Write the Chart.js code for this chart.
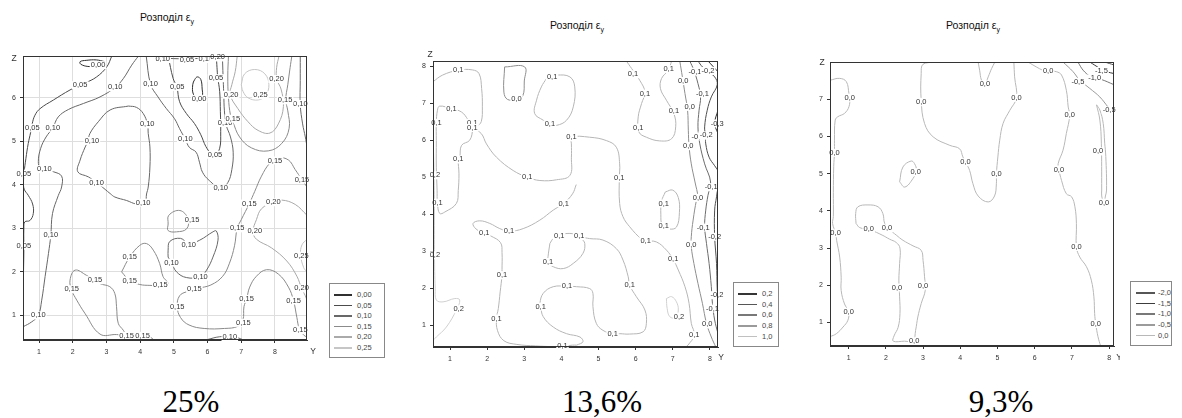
<!DOCTYPE html>
<html>
<head>
<meta charset="utf-8">
<script src="https://cdn.jsdelivr.net/npm/chart.js@4.4.1/dist/chart.umd.min.js"></script>
<style>
  body { margin: 0; background: #fff; width: 1182px; height: 418px; overflow: hidden; position: relative;
         font-family: "Liberation Sans", Arial, sans-serif; }
  canvas { position: absolute; }
  .title { position: absolute; font-size: 10.5px; line-height: 12px; color: #111; transform: translateX(-50%); white-space: nowrap; }
  .title sub { font-size: 7px; }
  .pct { position: absolute; font-family: "Liberation Serif", "Times New Roman", serif; font-size: 31px; line-height: 31px;
         color: #000; transform: translateX(-50%); white-space: nowrap; }
  .legend { position: absolute; border: 1.5px solid #888; background: #fff; }
  .legend .row { position: absolute; height: 8px; font-size: 7.5px; line-height: 8px; color: #444; opacity: 0.99; }
  .legend .sw { position: absolute; top: 3px; height: 1.5px; }
  .legend .tx { position: absolute; top: 0; }
</style>
</head>
<body>
<div class="title" style="left:167px;top:11px">Розподіл ε<sub>y</sub></div>
<div class="title" style="left:577px;top:19px">Розподіл ε<sub>y</sub></div>
<div class="title" style="left:973px;top:19px">Розподіл ε<sub>y</sub></div>

<canvas id="c1" width="320" height="310" style="left:0px;top:46px"></canvas>
<canvas id="c2" width="314" height="315" style="left:410px;top:48px"></canvas>
<canvas id="c3" width="313" height="314" style="left:807px;top:48px"></canvas>

<div class="legend" id="lg1" style="left:329px;top:283px;width:54px;height:73px"></div>
<div class="legend" id="lg2" style="left:733px;top:282px;width:44px;height:63px"></div>
<div class="legend" id="lg3" style="left:1130px;top:281px;width:40px;height:63px"></div>

<div class="pct" style="left:191px;top:386px">25%</div>
<div class="pct" style="left:602px;top:386px">13,6%</div>
<div class="pct" style="left:1001px;top:386px">9,3%</div>

<script>
// ---------- shared ticks ----------
const xTicks = [1, 2, 3, 4, 5, 6, 7, 8];
const p1YTicks = [1, 2, 3, 4, 5, 6];
const p2YTicks = [1, 2, 3, 4, 5, 6, 7, 8];
const p3YTicks = [1, 2, 3, 4, 5, 6, 7];

// ---------- panel 1 (25%) ----------
const p1Levels = ['0,00', '0,05', '0,10', '0,15', '0,20', '0,25'];
const p1Colors = ['#2e2e2e', '#4a4a4a', '#676767', '#8a8a8a', '#a9a9a9', '#c6c6c6'];

const p1L000a = [[2.95,6.83],[2.7,6.87],[2.4,6.86],[2.22,6.83],[2.24,6.77],[2.45,6.72],[2.7,6.73],[2.95,6.8],[2.95,6.83]];
const p1L000b = [[5.72,5.98],[5.58,6.08],[5.56,6.3],[5.62,6.42],[5.7,6.48],[5.8,6.42],[5.84,6.2],[5.84,6.04],[5.72,5.98]];
const p1L005a = [[3.16,6.96],[3.01,6.71],[2.71,6.48],[2.37,6.34],[2.22,6.29],[1.92,6.18],[1.43,5.95],[1.03,5.75],[0.88,5.6],[0.8,5.41],[0.75,5.2],[0.68,4.95],[0.61,4.6],[0.56,4.3],[0.54,4.07],[0.56,3.9],[0.68,3.76],[0.81,3.56],[0.83,3.34],[0.73,3.18],[0.58,3.15],[0.55,3.0],[0.55,2.5],[0.54,2.0]];
const p1L005b = [[4.83,6.96],[4.98,6.44],[5.09,6.25],[5.17,5.91],[5.37,5.64],[5.61,5.41],[5.8,5.15],[5.95,4.88],[6.1,4.73],[6.22,4.69],[6.36,4.84],[6.39,5.22],[6.38,5.68],[6.36,6.14],[6.3,6.48],[6.28,6.7],[6.26,6.96]];
const p1L010a = [[3.95,6.96],[3.75,6.75],[3.5,6.44],[3.26,6.24],[2.81,6.02],[2.32,5.87],[1.87,5.73],[1.57,5.56],[1.41,5.31],[1.21,5.1],[1.05,4.84],[0.98,4.53],[1.05,4.38],[1.43,4.3],[1.67,4.2],[1.67,3.95],[1.57,3.75],[1.4,3.34],[1.35,2.84],[1.28,2.42],[1.18,1.89],[1.08,1.35],[0.98,1.0],[0.78,0.85],[0.53,0.74]];
const p1L010b = [[3.65,5.81],[3.11,5.72],[2.76,5.45],[2.51,5.18],[2.45,5.0],[2.37,4.87],[2.22,4.57],[2.15,4.3],[2.47,4.18],[2.81,3.99],[3.11,3.8],[3.25,3.72],[3.6,3.64],[3.89,3.56],[4.14,3.59],[4.19,3.79],[4.24,3.95],[4.29,4.41],[4.29,4.87],[4.24,5.18],[4.22,5.39],[4.09,5.64],[3.89,5.78],[3.65,5.81]];
const p1L010c = [[4.18,6.96],[4.31,6.31],[4.53,6.02],[4.78,5.75],[5.02,5.52],[5.17,5.29],[5.34,5.05],[5.46,4.86],[5.66,4.75],[5.76,4.52],[5.85,4.29],[6.05,4.1],[6.39,3.92],[6.6,4.05],[6.72,4.35],[6.76,4.75],[6.68,5.1],[6.55,5.38],[6.5,5.7],[6.48,6.1],[6.46,6.5],[6.44,6.96]];
const p1L010d = [[4.45,6.93],[5.0,6.9],[5.6,6.9],[6.1,6.92]];
const p1L010e = [[8.75,6.96],[8.75,6.4],[8.75,5.84],[8.82,5.4],[8.9,5.1],[8.95,4.88]];
const p1L010f = [[5.97,0.44],[6.36,0.51],[6.66,0.5],[6.92,0.48],[7.05,0.44]];
const p1L010g = [[4.83,2.34],[4.83,2.5],[4.88,2.7],[5.2,2.77],[5.44,2.65],[5.77,2.73],[6.16,2.92],[6.26,2.94],[6.31,2.73],[6.16,2.34],[5.97,2.04],[5.79,1.89],[5.37,1.87],[5.08,2.0],[4.93,2.21],[4.83,2.34]];
const p1L015a = [[6.62,6.96],[6.6,6.5],[6.62,6.0],[6.68,5.6],[6.75,5.45],[6.95,5.1],[7.3,4.85],[7.8,4.78],[8.2,4.95],[8.42,5.3],[8.38,5.7],[8.32,5.95],[8.38,6.3],[8.45,6.7],[8.5,6.96]];
const p1L015b = [[8.95,3.95],[8.8,4.12],[8.6,4.35],[8.4,4.57],[8.1,4.62],[7.85,4.5],[7.6,4.2],[7.4,3.85],[7.24,3.57],[7.0,3.2],[6.88,3.0],[6.8,2.6],[6.65,2.2],[6.45,1.9],[6.1,1.7],[5.7,1.62],[5.4,1.55],[5.17,1.45],[5.1,1.2],[5.2,0.95],[5.45,0.78],[5.9,0.7],[6.5,0.7],[6.9,0.75],[7.05,0.9],[7.08,1.2],[7.16,1.38],[7.25,1.65],[7.45,1.9],[7.75,2.05],[8.1,1.95],[8.4,1.65],[8.55,1.34],[8.65,0.95],[8.72,0.7],[8.85,0.55],[8.95,0.5]];
const p1L015c = [[4.83,3.1],[4.85,3.3],[5.18,3.41],[5.42,3.22],[5.38,2.99],[5.08,2.92],[4.83,2.95],[4.83,3.1]];
const p1L015d = [[3.45,2.0],[3.69,2.34],[3.99,2.61],[4.19,2.65],[4.39,2.5],[4.58,2.19],[4.68,1.89],[4.83,1.73],[4.6,1.69],[4.29,1.69],[3.99,1.71],[3.69,1.8],[3.45,2.0]];
const p1L015e = [[3.6,0.53],[3.3,0.56],[2.81,0.57],[2.36,1.05],[2.12,1.35],[1.97,1.58],[1.92,1.81],[2.07,2.04],[2.41,1.92],[2.81,1.73],[3.1,1.66],[3.25,1.5],[3.3,1.2],[3.35,0.82],[3.5,0.66],[3.6,0.53]];
const p1L015f = [[3.8,0.52],[4.07,0.52],[4.3,0.5],[4.4,0.44]];
const p1L020a = [[6.88,6.96],[6.82,6.6],[6.72,6.3],[6.67,6.07],[6.9,5.75],[7.2,5.45],[7.5,5.25],[7.85,5.19],[8.1,5.4],[8.25,5.8],[8.18,6.2],[8.05,6.43],[8.05,6.7],[8.12,6.96]];
const p1L020b = [[8.95,3.3],[8.6,3.55],[8.2,3.65],[7.95,3.6],[7.6,3.45],[7.45,3.2],[7.35,2.93],[7.45,2.75],[7.9,2.55],[8.35,2.25],[8.65,1.9],[8.79,1.62],[8.9,1.45],[8.95,1.35]];
const p1L025a = [[7.0,6.3],[7.1,6.55],[7.4,6.65],[7.7,6.55],[7.82,6.3],[7.72,6.05],[7.5,5.95],[7.2,6.0],[7.05,6.15],[7.0,6.3]];
const p1L025b = [[8.95,2.75],[8.8,2.62],[8.76,2.4],[8.85,2.1],[8.95,2.0]];

const p1Lines = [
  [p1L000a, 0], [p1L000b, 0], [p1L005a, 1], [p1L005b, 1],
  [p1L010a, 2], [p1L010b, 2], [p1L010c, 2], [p1L010d, 2], [p1L010e, 2], [p1L010f, 2], [p1L010g, 2],
  [p1L015a, 3], [p1L015b, 3], [p1L015c, 3], [p1L015d, 3], [p1L015e, 3], [p1L015f, 3],
  [p1L020a, 4], [p1L020b, 4], [p1L025a, 5], [p1L025b, 5]
];
const p1Labels = [
  [2.75,6.75,'0,00'], [5.75,5.97,'0,00'],
  [2.22,6.29,'0,05'], [0.8,5.31,'0,05'], [0.55,4.26,'0,05'], [0.55,2.6,'0,05'], [5.1,6.25,'0,05'], [6.22,4.69,'0,05'], [6.25,6.45,'0,05'], [5.39,6.87,'0,05'],
  [3.26,6.24,'0,10'], [1.41,5.31,'0,10'], [1.16,4.36,'0,10'], [1.35,2.84,'0,10'], [0.98,1.0,'0,10'], [2.57,5.01,'0,10'], [2.71,4.05,'0,10'],
  [4.21,5.39,'0,10'], [4.09,3.59,'0,10'], [4.31,6.31,'0,10'], [5.34,5.05,'0,10'], [6.39,3.92,'0,10'], [6.52,5.42,'0,10'], [8.75,5.86,'0,10'],
  [6.66,0.5,'0,10'], [5.44,2.62,'0,10'], [5.79,1.89,'0,10'], [4.93,2.21,'0,10'], [4.67,6.89,'0,10'], [5.95,6.89,'0,10'],
  [6.75,5.52,'0,15'], [8.3,5.94,'0,15'], [8.8,4.12,'0,15'], [8.0,4.56,'0,15'], [7.24,3.57,'0,15'], [6.88,3.0,'0,15'], [5.61,1.61,'0,15'],
  [5.1,1.2,'0,15'], [7.06,0.83,'0,15'], [7.16,1.38,'0,15'], [8.55,1.34,'0,15'], [8.75,0.66,'0,15'], [5.54,3.2,'0,15'], [3.69,2.34,'0,15'],
  [3.69,1.8,'0,15'], [4.6,1.69,'0,15'], [1.97,1.6,'0,15'], [2.66,1.81,'0,15'], [3.6,0.53,'0,15'], [4.07,0.53,'0,15'],
  [6.3,6.93,'0,20'], [6.7,6.07,'0,20'], [8.05,6.43,'0,20'], [7.95,3.6,'0,20'], [7.4,2.93,'0,20'], [8.79,1.62,'0,20'],
  [7.57,6.06,'0,25'], [8.78,2.37,'0,25']
];

// ---------- panel 2 (13,6%) ----------
const p2Values = ['-0,3', '-0,2', '-0,1', '0,0', '0,1', '0,2'];
const p2Colors = ['#2e2e2e', '#4e4e4e', '#6c6c6c', '#8e8e8e', '#b6b6b6', '#d0d0d0'];
const p2Legend = ['0,2', '0,4', '0,6', '0,8', '1,0'];
const p2LegendColors = ['#333333', '#555555', '#777777', '#999999', '#c0c0c0'];

const p2L01a = [[0.54,7.58],[0.8,7.76],[1.22,7.89],[1.6,7.9],[1.78,7.8],[1.85,7.4],[1.87,6.9],[1.84,6.5],[1.72,6.36]];
const p2L01b = [[1.62,6.31],[1.53,6.0],[1.31,5.86],[1.26,5.54],[1.22,5.48],[1.24,5.09],[1.22,4.64],[1.17,4.29],[0.86,4.06],[0.72,4.02],[0.66,4.31],[0.65,4.65],[0.63,5.27],[0.63,5.99],[0.63,6.47],[0.66,6.81],[0.72,6.92],[1.04,6.85],[1.31,6.76],[1.49,6.54],[1.62,6.31]];
const p2L01c = [[1.62,6.31],[1.84,6.18],[1.98,5.9],[2.25,5.54],[2.7,5.18],[3.08,5.0],[3.42,4.91],[3.87,4.93],[4.23,5.05],[4.27,5.54],[4.27,5.9],[4.27,6.08],[4.76,6.08],[5.21,5.99],[5.48,5.81],[5.57,5.36],[5.56,4.97],[5.57,4.29],[5.66,3.93],[5.84,3.66],[6.16,3.32],[6.27,3.28],[6.56,3.25],[6.83,3.03],[7.01,2.78],[7.15,2.49],[7.33,2.04],[7.44,1.59],[7.5,1.05],[7.58,0.73],[7.41,0.46],[7.35,0.41]];
const p2L01d = [[3.6,7.67],[3.75,7.71],[3.87,7.76],[4.23,7.71],[4.36,7.44],[4.32,6.9],[4.14,6.54],[3.87,6.4],[3.69,6.43],[3.51,6.54],[3.28,6.72],[3.33,7.08],[3.46,7.44],[3.6,7.67]];
const p2L01e = [[5.75,8.14],[5.89,7.94],[6.11,7.62],[6.25,7.3],[6.16,6.99],[6.07,6.63],[6.09,6.22],[6.29,6.08],[6.65,5.98],[6.97,6.04],[7.08,6.36],[7.03,6.72],[6.83,7.08],[6.67,7.39],[6.7,7.67],[6.88,7.89],[6.97,8.14]];
const p2L01f = [[6.8,4.6],[7.0,4.65],[7.15,4.45],[7.18,4.05],[7.1,3.65],[6.9,3.6],[6.72,3.7],[6.68,4.0],[6.7,4.35],[6.8,4.6]];
const p2L01g = [[4.4,4.8],[4.3,4.55],[4.06,4.29],[3.78,4.11],[3.42,3.84],[2.97,3.61],[2.59,3.54],[2.34,3.61],[2.07,3.75],[1.8,3.82],[1.62,3.75],[1.7,3.6],[1.92,3.48],[2.1,3.41],[2.36,3.23],[2.4,2.96],[2.4,2.5],[2.4,2.35],[2.35,1.9],[2.3,1.45],[2.25,1.18],[2.28,0.85],[2.45,0.58],[2.8,0.48],[3.3,0.44],[3.8,0.42],[4.03,0.43],[4.3,0.46],[4.41,0.46]];
const p2L01h = [[3.69,3.21],[3.64,2.85],[3.64,2.71],[3.78,2.58],[4.05,2.53],[4.32,2.67],[4.58,2.94],[4.63,3.21],[4.54,3.34],[4.48,3.41],[4.23,3.48],[3.94,3.43],[3.78,3.34],[3.69,3.21]];
const p2L01i = [[4.55,3.38],[4.76,3.34],[5.12,3.3],[5.48,3.07],[5.66,2.76],[5.8,2.31],[5.84,2.08],[6.02,1.77],[6.25,1.41],[6.29,1.05],[6.2,0.82],[5.84,0.76],[5.57,0.77],[5.38,0.77],[5.12,0.86],[4.94,1.05],[4.85,1.5],[4.85,1.86],[4.76,1.99],[4.41,2.04],[4.15,2.05],[3.78,2.04],[3.51,1.86],[3.42,1.59],[3.44,1.5],[3.51,1.23],[3.78,0.95],[4.14,0.77],[4.5,0.68],[4.58,0.55],[4.41,0.46]];
const p2L02a = [[0.55,5.8],[0.57,5.05],[0.58,4.0],[0.58,2.89],[0.6,2.0],[0.63,1.68],[0.81,1.63],[1.13,1.72],[1.26,1.68],[1.17,1.41],[0.9,0.95],[0.63,0.68],[0.54,0.59]];
const p2L02b = [[6.83,1.72],[6.97,1.77],[7.1,1.63],[7.15,1.41],[7.08,1.2],[6.92,1.23],[6.85,1.45],[6.83,1.72]];
const p2L00a = [[2.47,7.98],[3.01,7.98],[3.0,7.6],[2.96,7.2],[2.79,7.11],[2.55,7.1],[2.45,7.3],[2.47,7.98]];
const p2L00b = [[7.19,8.14],[7.26,7.71],[7.33,7.26],[7.4,6.81],[7.42,6.27],[7.44,5.84],[7.5,5.36],[7.6,4.87],[7.68,4.46],[7.64,4.38],[7.55,3.84],[7.5,3.39],[7.5,3.12],[7.57,2.67],[7.68,2.13],[7.8,1.59],[7.91,1.05],[8.04,0.68],[8.16,0.41]];
const p2Lm01 = [[7.46,8.14],[7.57,7.89],[7.68,7.53],[7.75,7.17],[7.71,6.81],[7.68,6.36],[7.73,5.9],[7.86,5.36],[8.02,4.87],[7.95,4.51],[7.89,4.11],[7.86,3.66],[7.91,3.21],[7.98,2.67],[8.04,2.04],[8.07,1.59],[8.13,1.14],[8.22,0.77]];
const p2Lm02a = [[7.68,8.14],[7.8,7.98],[7.93,7.87],[8.13,7.71],[8.2,7.5],[8.04,7.17],[7.93,6.81],[7.86,6.36],[7.88,6.13],[7.89,5.9],[7.98,5.54],[8.13,5.31],[8.22,5.18]];
const p2Lm02b = [[8.22,4.75],[8.18,4.47],[8.13,4.11],[8.13,3.39],[8.18,2.67],[8.2,1.95],[8.22,1.6]];
const p2Lm03a = [[7.95,8.14],[8.22,7.85]];
const p2Lm03b = [[8.22,6.81],[8.13,6.45],[8.22,6.18]];

const p2Lines = [
  [p2L01a, 4], [p2L01b, 4], [p2L01c, 4], [p2L01d, 4], [p2L01e, 4], [p2L01f, 4], [p2L01g, 4], [p2L01h, 4], [p2L01i, 4],
  [p2L02a, 5], [p2L02b, 5], [p2L00a, 3], [p2L00b, 3], [p2Lm01, 2], [p2Lm02a, 1], [p2Lm02b, 1], [p2Lm03a, 0], [p2Lm03b, 0]
];
const p2Labels = [
  [1.22,7.89,'0,1'], [1.6,6.47,'0,1'], [1.6,6.33,'0,1'], [1.04,6.85,'0,1'], [0.63,6.47,'0,1'], [1.22,5.48,'0,1'], [0.66,4.31,'0,1'],
  [3.08,5.0,'0,1'], [4.27,6.08,'0,1'], [5.56,4.97,'0,1'], [6.27,3.28,'0,1'], [7.01,2.78,'0,1'], [7.58,0.73,'0,1'], [3.75,7.71,'0,1'],
  [3.69,6.43,'0,1'], [5.93,7.78,'0,1'], [6.25,7.26,'0,1'], [6.07,6.34,'0,1'], [7.03,6.79,'0,1'], [6.89,7.92,'0,1'], [6.76,4.29,'0,1'],
  [6.76,3.68,'0,1'], [4.06,4.29,'0,1'], [2.59,3.54,'0,1'], [1.92,3.48,'0,1'], [2.4,2.35,'0,1'], [2.25,1.18,'0,1'], [4.03,0.43,'0,1'],
  [3.94,3.41,'0,1'], [4.48,3.41,'0,1'], [3.64,2.71,'0,1'], [5.84,2.08,'0,1'], [5.38,0.77,'0,1'], [4.15,2.05,'0,1'], [3.44,1.5,'0,1'],
  [0.59,5.05,'0,2'], [0.59,2.89,'0,2'], [1.23,1.43,'0,2'], [7.17,1.23,'0,2'],
  [2.79,7.11,'0,0'], [7.28,7.6,'0,0'], [7.46,6.9,'0,0'], [7.42,5.84,'0,0'], [7.68,4.44,'0,0'], [7.5,3.18,'0,0'], [7.93,1.02,'0,0'],
  [7.6,7.85,'-0,1'], [7.8,7.26,'-0,1'], [7.68,6.1,'-0,1'], [8.04,4.73,'-0,1'], [7.82,3.64,'-0,1'], [8.07,1.45,'-0,1'],
  [7.95,7.87,'-0,2'], [7.9,6.13,'-0,2'], [8.13,3.39,'-0,2'], [8.19,1.81,'-0,2'],
  [8.2,6.45,'-0,3']
];

// ---------- panel 3 (9,3%) ----------
const p3Levels = ['-2,0', '-1,5', '-1,0', '-0,5', '0,0'];
const p3Colors = ['#555555', '#3a3a3a', '#777777', '#9a9a9a', '#b8b8b8'];

const p3L00a = [[0.5,7.51],[0.76,7.56],[0.94,7.47],[1.01,7.15],[1.03,7.04],[1.01,6.8],[0.89,6.62],[0.71,6.53],[0.64,6.44],[0.62,5.9],[0.62,5.56],[0.6,5.2],[0.59,4.5],[0.59,3.85],[0.57,3.66],[0.65,3.4],[0.68,3.2],[0.76,2.76],[0.8,2.22],[0.8,1.86],[0.89,1.5],[1.0,1.29],[0.98,1.06],[0.85,0.88],[0.67,0.7],[0.5,0.62]];
const p3L00b = [[3.31,8.0],[3.0,7.94],[2.95,7.69],[2.95,6.97],[3.04,6.35],[3.27,5.99],[3.72,5.76],[3.98,5.67],[4.07,5.45],[4.14,5.31],[4.25,5.09],[4.34,4.73],[4.48,4.4],[4.75,4.24],[4.92,4.4],[4.97,4.73],[4.97,4.98],[5.01,5.45],[5.06,5.9],[5.15,6.35],[5.33,6.7],[5.51,7.04],[5.46,7.6],[5.44,8.0]];
const p3L00c = [[4.48,8.0],[4.52,7.78],[4.57,7.51],[4.66,7.4],[4.75,7.6],[4.84,7.82],[4.93,8.0]];
const p3L00d = [[5.82,8.0],[6.04,7.87],[6.22,7.78],[6.36,7.76],[6.58,7.74],[6.72,7.65],[6.85,7.24],[6.9,6.79],[6.94,6.57],[6.85,6.08],[6.76,5.63],[6.63,5.27],[6.65,5.11],[6.72,4.82],[6.85,4.46],[6.99,4.38],[7.08,4.11],[7.12,3.66],[7.12,3.03],[7.21,2.76],[7.39,2.5],[7.52,2.14],[7.59,1.69],[7.61,1.24],[7.64,0.96],[7.7,0.62],[7.77,0.37]];
const p3L00e = [[2.37,4.78],[2.46,5.18],[2.68,5.34],[2.77,5.27],[2.82,5.09],[2.73,4.87],[2.51,4.64],[2.37,4.78]];
const p3L00f = [[7.66,6.85],[7.75,6.71],[7.84,6.35],[7.88,5.82],[7.91,5.46],[7.93,4.56],[7.9,4.4],[7.86,4.22],[7.8,4.4],[7.8,4.56],[7.79,5.82],[7.75,6.44],[7.66,6.85]];
const p3L00g = [[1.2,3.66],[1.19,3.93],[1.25,4.11],[1.52,4.16],[1.79,4.11],[1.92,3.93],[1.97,3.66],[2.1,3.5],[2.28,3.35],[2.46,3.21],[2.73,3.06],[2.95,2.94],[3.0,2.67],[3.04,2.23],[3.06,1.87],[2.95,1.51],[2.86,1.15],[2.8,0.79],[2.73,0.5],[2.5,0.5],[2.2,0.5],[2.22,0.64],[2.33,0.87],[2.38,1.24],[2.37,1.69],[2.35,2.14],[2.37,2.58],[2.38,3.0],[2.28,3.15],[2.1,3.24],[1.9,3.35],[1.6,3.48],[1.3,3.55],[1.2,3.66]];
const p3Lm05 = [[6.76,8.0],[7.03,7.74],[7.21,7.51],[7.48,7.29],[7.75,7.06],[7.97,6.79],[8.13,6.6]];
const p3Lm10 = [[7.16,8.0],[7.3,7.78],[7.48,7.62],[7.61,7.56],[7.79,7.53],[8.13,7.39]];
const p3Lm15 = [[7.48,8.0],[7.75,7.83],[7.93,7.74],[8.13,7.69]];
const p3Lm20 = [[7.88,8.0],[8.13,7.92]];

const p3Lines = [
  [p3L00a, 4], [p3L00b, 4], [p3L00c, 4], [p3L00d, 4], [p3L00e, 4], [p3L00f, 4], [p3L00g, 4],
  [p3Lm05, 3], [p3Lm10, 2], [p3Lm15, 1], [p3Lm20, 0]
];
const p3Labels = [
  [1.03,7.04,'0,0'], [0.62,5.56,'0,0'], [0.65,3.4,'0,0'], [1.0,1.29,'0,0'], [2.95,6.93,'0,0'], [4.14,5.31,'0,0'], [4.97,4.98,'0,0'],
  [5.51,7.04,'0,0'], [4.66,7.4,'0,0'], [6.36,7.76,'0,0'], [6.94,6.57,'0,0'], [6.65,5.11,'0,0'], [7.12,3.03,'0,0'], [7.64,0.96,'0,0'],
  [2.8,5.04,'0,0'], [7.86,4.22,'0,0'], [7.7,5.6,'0,0'], [1.54,3.51,'0,0'], [2.03,3.53,'0,0'], [2.3,1.94,'0,0'], [3.0,1.99,'0,0'], [2.76,0.5,'0,0'],
  [7.16,7.47,'-0,5'], [8.0,6.7,'-0,5'], [7.61,7.56,'-1,0'], [7.79,7.76,'-1,5']
];

// ---------- drawing ----------
const FONT = '"Liberation Sans", Arial, sans-serif';
Chart.defaults.font.family = FONT;

// contour labels on white patches, plot frame, axis names
const contourDecor = {
  id: 'contourDecor',
  afterDatasetsDraw(chart, args, opts) {
    const { ctx, chartArea: a, scales: { x, y } } = chart;
    ctx.save();
    ctx.font = '7.5px ' + FONT;
    ctx.textAlign = 'center';
    ctx.textBaseline = 'middle';
    opts.labels.forEach(([vx, vy, t]) => {
      const px = x.getPixelForValue(vx);
      const py = y.getPixelForValue(vy);
      const w = ctx.measureText(t).width;
      ctx.fillStyle = '#fff';
      ctx.fillRect(px - w / 2 - 1, py - 4, w + 2, 8);
      ctx.fillStyle = '#333';
      ctx.fillText(t, px, py);
    });
    ctx.strokeStyle = '#333';
    ctx.lineWidth = 1;
    ctx.strokeRect(a.left + 0.5, a.top + 0.5, a.right - a.left - 1, a.bottom - a.top - 1);
    ctx.font = '8.5px ' + FONT;
    ctx.fillText('Z', a.left + opts.zPos[0], a.top + opts.zPos[1]);
    ctx.fillText('Y', a.right + opts.yPos[0], a.bottom + opts.yPos[1]);
    ctx.restore();
  }
};

function makeChart(id, lines, colors, labels, xr, yr, yTicks, grid, pad, zPos, yPos) {
  const datasets = lines.map(([pts, lv]) => ({
    data: pts.map(([x, y]) => ({ x, y })),
    showLine: true,
    borderColor: colors[lv],
    borderWidth: 1,
    pointRadius: 0,
    tension: 0.4,
    fill: false
  }));
  const axis = (ticks, size, horizontal) => ({
    type: 'linear',
    afterBuildTicks: s => { s.ticks = ticks.map(v => ({ value: v })); },
    afterFit: s => { if (horizontal) s.height = size; else s.width = size; },
    ticks: { font: { size: 7 }, color: '#333', padding: horizontal ? 5 : 4, maxRotation: 0, autoSkip: false },
    grid: { color: '#dedede', drawOnChartArea: grid, tickLength: 3, tickColor: '#333' },
    border: { color: '#333' }
  });
  const xs = Object.assign(axis(xTicks, 16, true), { min: xr[0], max: xr[1] });
  const ys = Object.assign(axis(yTicks, 23, false), { min: yr[0], max: yr[1] });
  return new Chart(document.getElementById(id), {
    type: 'scatter',
    data: { datasets },
    options: {
      responsive: false,
      animation: false,
      layout: { padding: pad, autoPadding: false },
      scales: { x: xs, y: ys },
      plugins: {
        legend: { display: false },
        tooltip: { enabled: false },
        contourDecor: { labels, zPos, yPos }
      }
    },
    plugins: [contourDecor]
  });
}

makeChart('c1', p1Lines, p1Colors, p1Labels, [0.525, 8.95], [0.435, 6.96], p1YTicks, true,
  { left: 0, right: 13, top: 10, bottom: 0 }, [-9, 3], [6, 12]);
makeChart('c2', p2Lines, p2Colors, p2Labels, [0.54, 8.22], [0.41, 8.14], p2YTicks, false,
  { left: 0, right: 6, top: 13, bottom: 0 }, [-3, -6], [3, 11]);
makeChart('c3', p3Lines, p3Colors, p3Labels, [0.5, 8.13], [0.37, 8.0], p3YTicks, false,
  { left: 0, right: 6, top: 14, bottom: 0 }, [-8, 1], [5, 12]);

// ---------- legends ----------
function legend(id, names, colors, rowTop, rowGap, swL, swW, txL) {
  const box = document.getElementById(id);
  names.forEach((n, i) => {
    const row = document.createElement('div');
    row.className = 'row';
    row.style.top = (rowTop + i * rowGap - 4) + 'px';
    row.style.left = '0px';
    row.style.width = '100%';
    row.innerHTML = '<div class="sw" style="left:' + swL + 'px;width:' + swW + 'px;background:' + colors[i] +
      '"></div><div class="tx" style="left:' + txL + 'px">' + n + '</div>';
    box.appendChild(row);
  });
}
legend('lg1', p1Levels, p1Colors, 11, 10.6, 4, 18, 27);
legend('lg2', p2Legend, p2LegendColors, 11, 10.7, 4, 19, 28);
legend('lg3', p3Levels, p3Colors, 11, 10.7, 5, 19, 27);
</script>
</body>
</html>
